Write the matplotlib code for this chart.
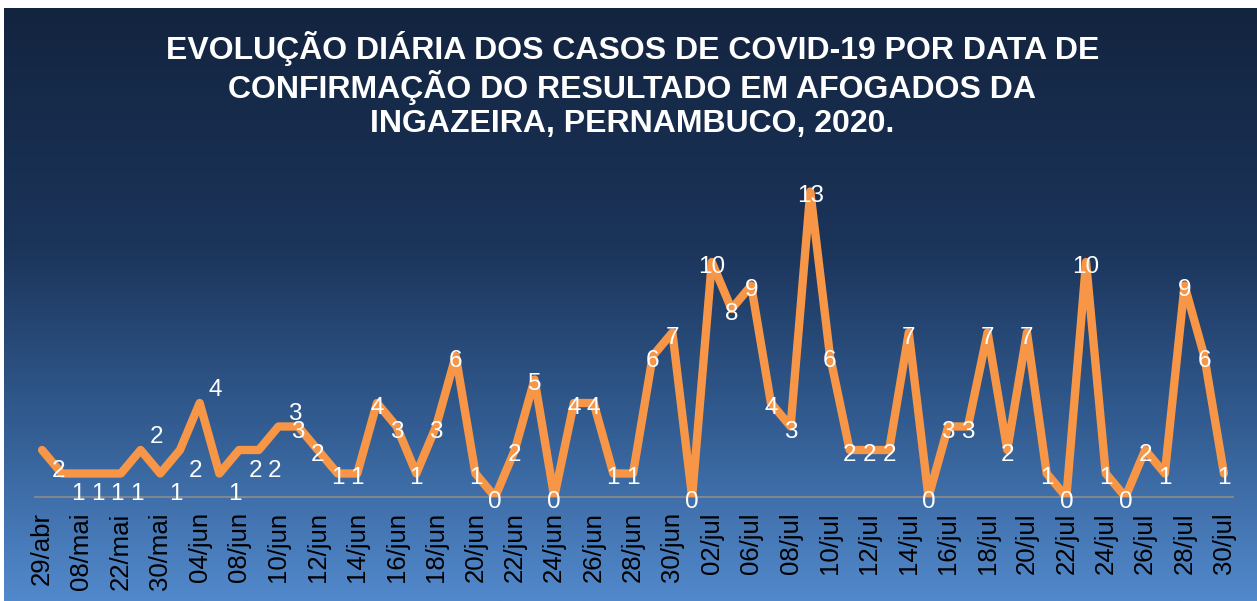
import numpy as np
import matplotlib
matplotlib.use("Agg")
import matplotlib.pyplot as plt
from matplotlib.colors import LinearSegmentedColormap

plt.rcParams['font.family'] = ['Liberation Sans', 'DejaVu Sans']

# data: confirmed cases per date of result
dates = ["29/abr", "05/mai", "08/mai", "15/mai", "22/mai", "27/mai", "30/mai", "02/jun",
         "04/jun", "06/jun", "08/jun", "09/jun", "10/jun", "11/jun", "12/jun", "13/jun",
         "14/jun", "15/jun", "16/jun", "17/jun", "18/jun", "19/jun", "20/jun", "21/jun",
         "22/jun", "23/jun", "24/jun", "25/jun", "26/jun", "27/jun", "28/jun", "29/jun",
         "30/jun", "01/jul", "02/jul", "04/jul", "06/jul", "07/jul", "08/jul", "09/jul",
         "10/jul", "11/jul", "12/jul", "13/jul", "14/jul", "15/jul", "16/jul", "17/jul",
         "18/jul", "19/jul", "20/jul", "21/jul", "22/jul", "23/jul", "24/jul", "25/jul",
         "26/jul", "27/jul", "28/jul", "29/jul", "30/jul"]
cases = [2, 1, 1, 1, 1, 2, 1, 2, 4, 1, 2, 2, 3, 3, 2, 1, 1, 4, 3, 1,
         3, 6, 1, 0, 2, 5, 0, 4, 4, 1, 1, 6, 7, 0, 10, 8, 9, 4, 3, 13,
         6, 2, 2, 2, 7, 0, 3, 3, 7, 2, 7, 1, 0, 10, 1, 0, 2, 1, 9, 6, 1]

title = ("EVOLUÇÃO DIÁRIA DOS CASOS DE COVID-19 POR DATA DE\n"
         "CONFIRMAÇÃO DO RESULTADO EM AFOGADOS DA\n"
         "INGAZEIRA, PERNAMBUCO, 2020.")

# label placement (style only): first labels sit right of the point
label_pos = ["br", "br", "br", "br", "br", "ar", "br", "br", "ar", "br", "br", "br", "ar"]
offsets = {"br": (16, -21), "ar": (16, 13), "c": (0, -5)}

W, H = 1257, 601
fig = plt.figure(figsize=(W/100, H/100), dpi=100)
fig.patch.set_facecolor("white")

# gradient panel
bg = fig.add_axes([4/W, 0, (W-4)/W, (H-8)/H])
bg.set_axis_off()
cmap = LinearSegmentedColormap.from_list("bg", [
    (0.0, (19/255, 36/255, 63/255)),
    (0.40, (27/255, 52/255, 90/255)),
    (0.70, (50/255, 92/255, 145/255)),
    (1.0, (82/255, 137/255, 204/255)),
])
grad = np.linspace(0, 1, 256).reshape(-1, 1)
bg.imshow(grad, aspect="auto", cmap=cmap, extent=[0, 1, 1, 0])
bg.set_xlim(0, 1)
bg.set_ylim(1, 0)

fig.text(0.503, 1 - 85/H, title, ha="center", va="center", color="white",
         fontsize=23, fontweight="bold", linespacing=1.15)

ax = fig.add_axes([35/W, (H-497)/H, (1233-35)/W, (497-168)/H])
ax.patch.set_alpha(0)
x = np.arange(len(cases))
ax.plot(x, cases, color="#f79646", lw=6, solid_joinstyle="round",
        solid_capstyle="round", zorder=3)
ax.set_xlim(-0.36, len(cases) - 0.54)
ax.set_ylim(0, 14)

for i, v in enumerate(cases):
    code = label_pos[i] if i < len(label_pos) else "c"
    dx, dy = offsets[code]
    ax.annotate(str(v), (x[i], v), xytext=(dx, dy), textcoords="offset pixels",
                ha="center", va="center", color="white", fontsize=17.5, zorder=4,
                annotation_clip=False)

for s in ["top", "right", "left"]:
    ax.spines[s].set_visible(False)
ax.spines["bottom"].set_color("#8c8c8c")
ax.spines["bottom"].set_linewidth(1.2)
ax.set_yticks([])
ax.set_xticks(x[::2])
ax.set_xticklabels(dates[::2], rotation=90, fontsize=18.5, color="black")
ax.tick_params(axis="x", length=0, pad=11)

fig.savefig("out.png", dpi=100)
